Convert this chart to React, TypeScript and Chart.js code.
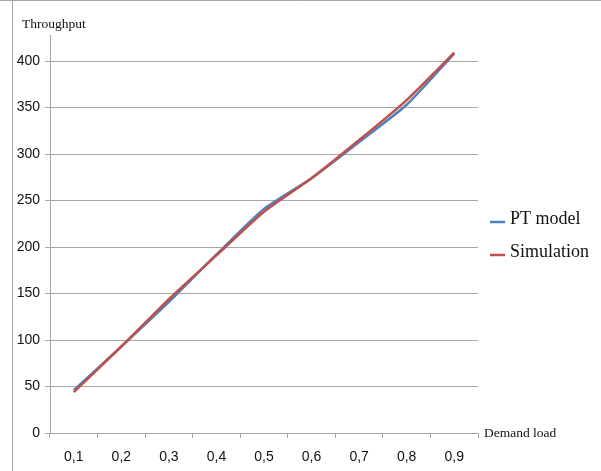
import React, { useEffect, useRef } from "react";
import { Chart, registerables } from "chart.js";

Chart.register(...registerables);

const categories = ["0,1", "0,2", "0,3", "0,4", "0,5", "0,6", "0,7", "0,8", "0,9"];
const ptModel = [46, 93, 141, 192, 241, 274, 313, 353, 408];
const simulation = [44, 93, 144, 191, 238, 274, 315, 358, 409];
const seriesNames = ["PT model", "Simulation"];
const seriesColors = ["#4F81BD", "#C0504D"];
const yAxisTitle = "Throughput";
const xAxisTitle = "Demand load";
const yMin = 0;
const yMax = 428;
const yStep = 50;

const GRID = "#A6A6A6";
const SERIF = "'Liberation Serif', 'Times New Roman', serif";

const decorPlugin = {
  id: "decor",
  afterDraw(chart: any) {
    const ctx = chart.ctx;
    const area = chart.chartArea;
    ctx.save();
    // frame
    ctx.strokeStyle = GRID;
    ctx.lineWidth = 1;
    ctx.beginPath();
    ctx.moveTo(0, 0.5);
    ctx.lineTo(chart.width, 0.5);
    ctx.moveTo(12.5, 0);
    ctx.lineTo(12.5, chart.height);
    ctx.stroke();
    // axis titles
    ctx.fillStyle = "#111";
    ctx.font = `13.5px ${SERIF}`;
    ctx.textBaseline = "middle";
    ctx.textAlign = "left";
    ctx.fillText(yAxisTitle, 22, 24);
    ctx.fillText(xAxisTitle, area.right + 6, area.bottom);
    // legend
    ctx.font = `18px ${SERIF}`;
    const legendY = [219, 252];
    chart.data.datasets.forEach((ds: any, i: number) => {
      const y = legendY[i];
      ctx.strokeStyle = ds.borderColor;
      ctx.lineWidth = 2.5;
      ctx.beginPath();
      ctx.moveTo(490, y + 3);
      ctx.lineTo(505, y + 3);
      ctx.stroke();
      ctx.fillStyle = "#111";
      ctx.fillText(ds.label, 510, y);
    });
    ctx.restore();
  },
};

export default function App() {
  const ref = useRef<HTMLCanvasElement>(null);
  useEffect(() => {
    if (!ref.current) return;
    const chart = new Chart(ref.current, {
      type: "line",
      data: {
        labels: categories,
        datasets: [
          {
            label: seriesNames[0],
            data: ptModel,
            borderColor: seriesColors[0],
            backgroundColor: seriesColors[0],
            borderWidth: 2.5,
            pointRadius: 0,
            tension: 0.2,
            order: 1,
          },
          {
            label: seriesNames[1],
            data: simulation,
            borderColor: seriesColors[1],
            backgroundColor: seriesColors[1],
            borderWidth: 2.5,
            pointRadius: 0,
            tension: 0.2,
            order: 0,
          },
        ],
      },
      options: {
        responsive: false,
        animation: false,
        layout: { padding: { top: 35, right: 123, bottom: 0, left: 0 } },
        plugins: { legend: { display: false }, tooltip: { enabled: false } },
        scales: {
          x: {
            type: "category",
            offset: true,
            afterFit: (s: any) => {
              s.height = 38;
            },
            grid: {
              offset: true,
              drawOnChartArea: false,
              drawTicks: true,
              tickLength: 5,
              color: GRID,
            },
            border: { display: true, color: GRID, width: 1 },
            ticks: {
              color: "#111",
              padding: 11,
              maxRotation: 0,
              font: { family: "'Liberation Sans', Arial, sans-serif", size: 14 },
            },
          },
          y: {
            min: yMin,
            max: yMax,
            afterFit: (s: any) => {
              s.width = 50;
            },
            afterBuildTicks: (s: any) => {
              s.ticks = s.ticks.filter((t: any) => t.value % yStep === 0);
            },
            grid: { color: GRID, tickLength: 5, drawTicks: true },
            border: { display: true, color: GRID, width: 1 },
            ticks: {
              stepSize: yStep,
              color: "#111",
              padding: 5,
              font: { family: "'Liberation Sans', Arial, sans-serif", size: 14 },
            },
          },
        },
      },
      plugins: [decorPlugin],
    });
    return () => chart.destroy();
  }, []);
  return (
    <div style={{ position: "absolute", left: 0, top: 0, width: 601, height: 471, background: "#fff" }}>
      <canvas ref={ref} width={601} height={471} style={{ display: "block" }} />
    </div>
  );
}
